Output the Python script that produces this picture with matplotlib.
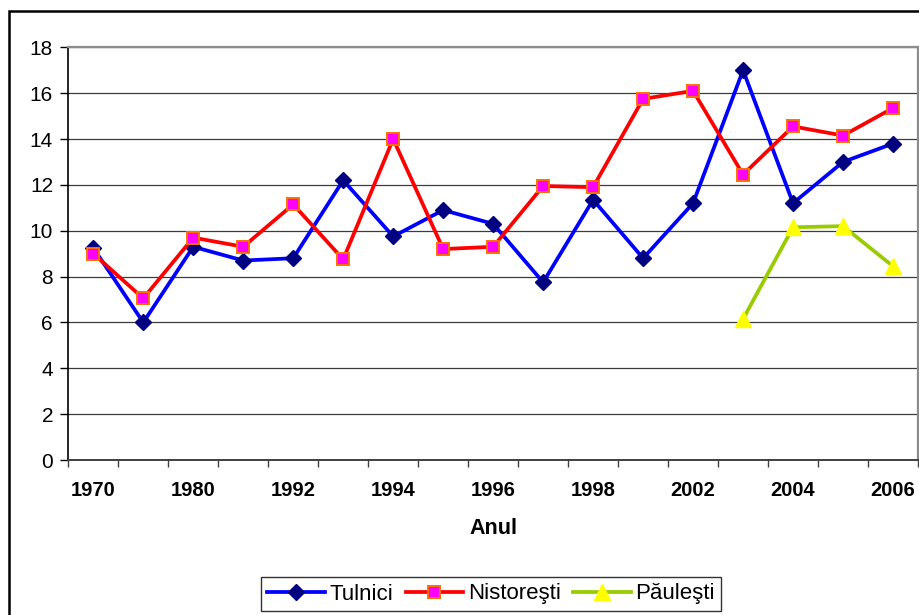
import matplotlib
matplotlib.use('Agg')
import matplotlib.pyplot as plt
import matplotlib.patches as mpatches
import numpy as np

plt.rcParams['font.family'] = ['Liberation Sans', 'DejaVu Sans']

# categories (Excel shows every other label)
years = ["1970", "1975", "1980", "1985", "1992", "1993", "1994", "1995", "1996",
         "1997", "1998", "2000", "2002", "2003", "2004", "2005", "2006"]
tulnici = [9.25, 6.0, 9.3, 8.7, 8.8, 12.2, 9.75, 10.9, 10.3,
           7.75, 11.35, 8.8, 11.2, 17.0, 11.2, 13.0, 13.8]
nistoresti = [9.0, 7.05, 9.7, 9.3, 11.15, 8.75, 14.0, 9.2, 9.3,
              11.95, 11.9, 15.75, 16.1, 12.45, 14.55, 14.15, 15.35]
paulesti = [None] * 13 + [6.15, 10.15, 10.2, 8.45]
yticks = [0, 2, 4, 6, 8, 10, 12, 14, 16, 18]


def main():
    fig = plt.figure(figsize=(9.2, 6.15), dpi=100)
    fig.patch.set_facecolor('white')
    ax = fig.add_axes([68.3 / 920, 1 - 460 / 615, (918 - 68.3) / 920, (460 - 47.3) / 615])

    # outer chart frame (cut at right / bottom like the reference)
    fig.patches.append(mpatches.Rectangle((9 / 920, -0.1), 1.1, 1 - 11 / 615 + 0.1,
                                          transform=fig.transFigure, fill=False,
                                          edgecolor='black', linewidth=1.8, zorder=0))

    x = np.arange(len(years))
    p = np.array([np.nan if v is None else v for v in paulesti], dtype=float)

    ax.plot(x, tulnici, color='#0000FF', linewidth=2.7, marker='D', markersize=8.5,
            markerfacecolor='#000080', markeredgecolor='#000080', label='Tulnici', zorder=3)
    ax.plot(x, nistoresti, color='#FF0000', linewidth=2.7, marker='s', markersize=8,
            markerfacecolor='#FF00FF', markeredgecolor='#FF7000', markeredgewidth=1.4,
            label='Nistoreşti', zorder=4)
    ax.plot(x, p, color='#99CC00', linewidth=2.7, marker='^', markersize=11,
            markerfacecolor='#FFFF00', markeredgecolor='#FFFF00', label='Păuleşti', zorder=3)

    ax.set_xlim(-0.5, len(years) - 0.5)
    ax.set_ylim(0, 18)
    ax.set_yticks(yticks)
    ax.set_yticklabels([str(v) for v in yticks], fontsize=15)
    ax.tick_params(axis='y', direction='out', length=6, width=1, pad=5, color='black')

    ax.set_xticks(x[::2])
    ax.set_xticklabels(years[::2], fontsize=14.5, fontweight='bold')
    ax.set_xticks(np.arange(len(years) + 1) - 0.5, minor=True)
    ax.tick_params(axis='x', which='major', length=0, pad=15)
    ax.tick_params(axis='x', which='minor', direction='out', length=5, width=1, color='#404040')
    ax.set_xlabel('Anul', fontsize=15.5, fontweight='bold', labelpad=13)

    ax.grid(True, axis='y', color='#3c3c3c', linewidth=0.9)
    ax.set_axisbelow(True)
    ax.spines['left'].set_color('black')
    ax.spines['left'].set_linewidth(1.2)
    ax.spines['bottom'].set_color('#404040')
    ax.spines['bottom'].set_linewidth(1.4)
    for s in ['top', 'right']:
        ax.spines[s].set_color('#8c8c8c')
        ax.spines[s].set_linewidth(1.6)

    leg = ax.legend(loc='center', bbox_to_anchor=(491 / 920, 1 - 594 / 615),
                    bbox_transform=fig.transFigure, ncol=3, fontsize=16,
                    frameon=True, fancybox=False, edgecolor='black',
                    handlelength=2.6, handletextpad=0.2, columnspacing=0.55,
                    borderpad=0.3, borderaxespad=0)
    leg.get_frame().set_linewidth(1.0)

    fig.savefig('out.png', dpi=100)


if __name__ == "__main__":
    main()
